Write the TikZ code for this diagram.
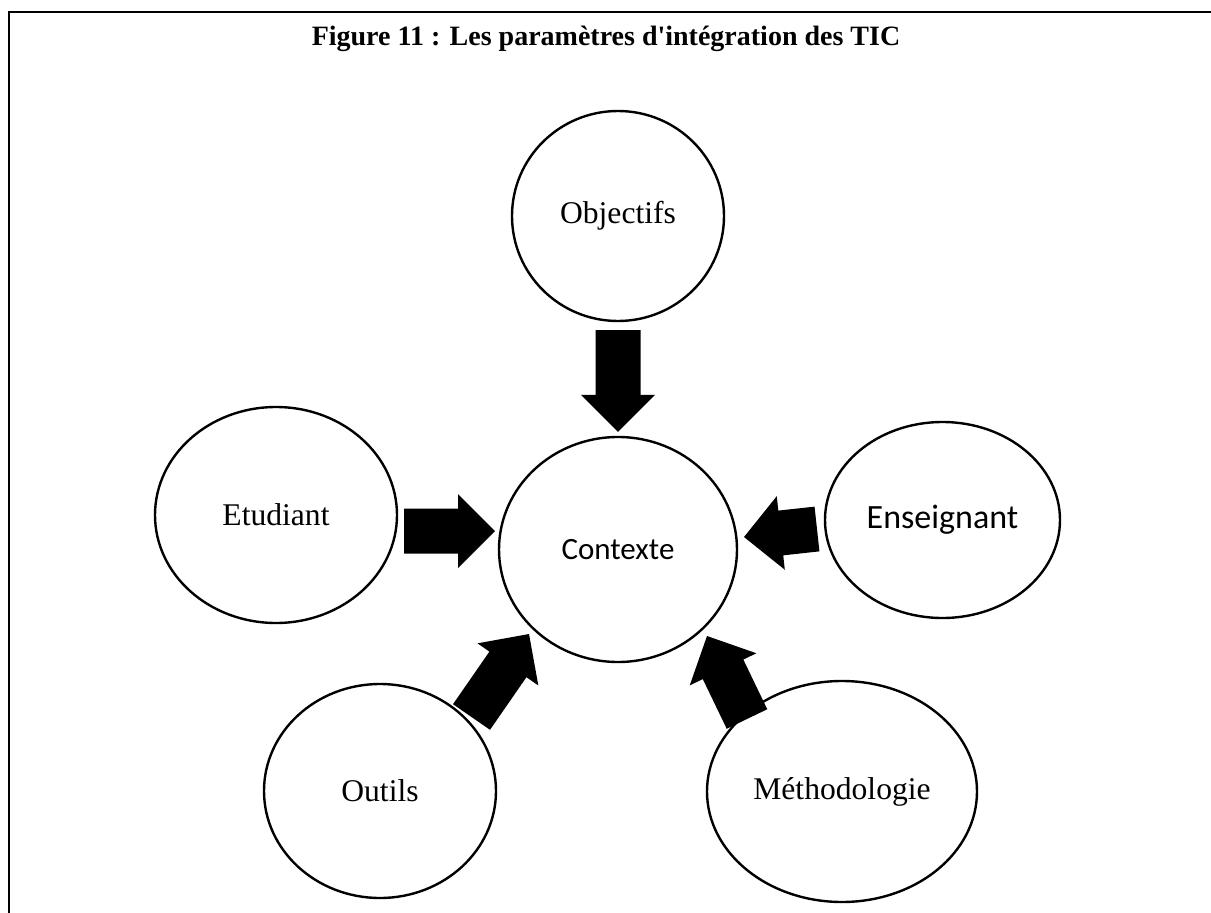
\documentclass[tikz,border=0pt]{standalone}
\usepackage{fontspec}
\setmainfont{Liberation Serif}
\newfontfamily\calibfont{Carlito}
\usetikzlibrary{shapes.geometric,calc}
\newcommand\blockarrow[2]{%
  \coordinate (ba-b) at ($(#2)!37pt!(#1)$);
  \fill ($(#1)!22.5pt!90:(#2)$) -- ($(ba-b)!22.5pt!90:(#2)$) -- ($(ba-b)!37pt!90:(#2)$) -- (#2)
    -- ($(ba-b)!37pt!-90:(#2)$) -- ($(ba-b)!22.5pt!-90:(#2)$) -- ($(#1)!22.5pt!-90:(#2)$) -- cycle;}
\tikzset{
  bub/.style={draw, ellipse, line width=2.4pt, inner sep=0pt, font=\fontsize{31.6}{36}\selectfont},
  sansbub/.style={bub, font=\calibfont\fontsize{31}{36}\selectfont},
  frame/.style={line width=2pt},
}
\begin{document}
\begin{tikzpicture}[x=1pt,y=-1pt]
\useasboundingbox (0,0) rectangle (1211,913);
\draw[frame] (1211,12) -- (9,12) -- (9,913);
\node[font=\bfseries\fontsize{28}{32}\selectfont\addfontfeatures{Ligatures=TeXOff}] (title) at (606,39) {Figure 11 : Les paramètres d'intégration des TIC};
\node[bub, minimum width=212pt, minimum height=210pt] (obj) at (618,216) {Objectifs};
\node[sansbub, minimum width=238pt, minimum height=225pt] (ctx) at (618,549.5) {Contexte};
\node[bub, minimum width=242pt, minimum height=216pt] (etu) at (276,515) {Etudiant};
\node[sansbub, font=\calibfont\fontsize{34}{38}\selectfont, minimum width=235pt, minimum height=196pt] (ens) at (942.5,520) {Enseignant};
\node[bub, minimum width=232pt, minimum height=214pt] (out) at (380,791) {Outils};
\node[bub, minimum width=270pt, minimum height=221pt] (met) at (842,791.5) {Méthodologie};
% arrow ends
\path (obj.south) ++(0,8) coordinate (a1t);
\path (ctx.north) ++(0,-4) coordinate (a1h);
\coordinate (a2t) at (404,531);
\coordinate (a2h) at (495,531);
\coordinate (a3t) at (817,529);
\coordinate (a3h) at (744,537);
\coordinate (a4t) at (471.5,717);
\coordinate (a4h) at (529,634);
\coordinate (a5t) at (747,719);
\coordinate (a5h) at (707,636);
\blockarrow{a1t}{a1h}
\blockarrow{a2t}{a2h}
\blockarrow{a3t}{a3h}
\blockarrow{a4t}{a4h}
\blockarrow{a5t}{a5h}
\end{tikzpicture}
\end{document}
